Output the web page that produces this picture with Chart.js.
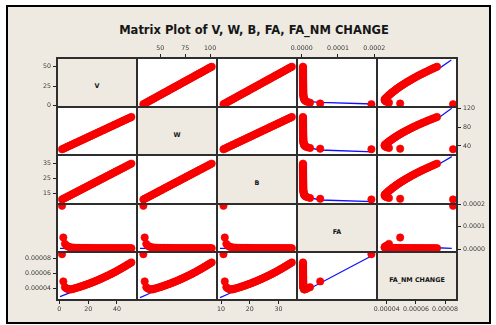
<!DOCTYPE html>
<html>
<head>
<meta charset="utf-8">
<script src="https://cdn.jsdelivr.net/npm/chart.js@4/dist/chart.umd.min.js"></script>
<style>
  html, body { margin: 0; padding: 0; background: #ffffff; }
  body { width: 496px; height: 325px; position: relative; overflow: hidden; font-family: "DejaVu Sans", sans-serif; }
  #frame { position: absolute; left: 6px; top: 5px; width: 485px; height: 319px; box-sizing: border-box;
           border: 2px solid #000; background: #EEEAE1; }
  #title { position: absolute; left: 0; width: 508px; top: 25px; text-align: center;
           font: bold 11.5px "DejaVu Sans"; line-height: 11.5px; color: #161616; white-space: nowrap; }
  .cell { position: absolute; }
  .diag { background: #EEEAE1; display: flex; align-items: center; justify-content: center;
          font: bold 6.4px "DejaVu Sans"; color: #141414; box-sizing: border-box; padding-top: 7px; white-space: nowrap; }
  .off { background: #ffffff; }
  canvas { position: absolute; }
  .gl { position: absolute; background: #2e2e2e; }
</style>
</head>
<body>
<div id="frame"></div>
<div id="title">Matrix Plot of V, W, B, FA, FA_NM CHANGE</div>
<div id="stage"></div>
<script>
// ---- variables of the matrix ----
const names = ['V', 'W', 'B', 'FA', 'FA_NM CHANGE'];

const V = [1.9, 2.8, 3.9, 5, 6, 7, 8, 9, 10, 11, 12, 13, 14, 15, 16, 17, 18, 19, 20, 21, 22, 23, 24, 25,
           26, 27, 28, 29, 30, 31, 32, 33, 34, 35, 36, 37, 38, 39, 40, 41, 42, 43, 44, 45, 46, 47, 48, 49, 50];

const W = [33.0, 34.3, 35.9, 37.4, 38.9, 40.3, 41.7, 43.1, 44.6, 46.0, 47.4, 48.8, 50.3, 51.7, 53.1, 54.5,
           55.9, 57.4, 58.8, 60.2, 61.6, 63.1, 64.5, 65.9, 67.4, 68.8, 70.2, 71.6, 73.1, 74.5, 75.9, 77.3,
           78.8, 80.2, 81.6, 83.0, 84.5, 85.9, 87.3, 88.7, 90.2, 91.6, 93.0, 94.4, 95.9, 97.3, 98.7, 100.1, 101.6];

const B = [10.85, 11.3, 11.84, 12.38, 12.87, 13.37, 13.86, 14.36, 14.85, 15.34, 15.84, 16.33, 16.83, 17.32,
           17.81, 18.31, 18.8, 19.29, 19.79, 20.28, 20.78, 21.27, 21.76, 22.26, 22.75, 23.24, 23.74, 24.23,
           24.73, 25.22, 25.71, 26.21, 26.7, 27.19, 27.69, 28.18, 28.68, 29.17, 29.66, 30.16, 30.65, 31.14,
           31.64, 32.13, 32.63, 33.12, 33.61, 34.11, 34.6];

const FA = [1.92e-4, 5.1e-5, 2.3e-5, 1.5e-5, 1.1e-5, 8.5e-6, 7.0e-6, 6.2e-6, 5.6e-6, 5.2e-6, 5.0e-6, 4.8e-6,
            4.6e-6, 4.5e-6, 4.4e-6, 4.3e-6, 4.3e-6, 4.2e-6, 4.2e-6, 4.1e-6, 4.1e-6, 4.0e-6, 4.0e-6, 4.0e-6,
            3.9e-6, 3.9e-6, 3.9e-6, 3.8e-6, 3.8e-6, 3.8e-6, 3.8e-6, 3.7e-6, 3.7e-6, 3.7e-6, 3.7e-6, 3.7e-6,
            3.6e-6, 3.6e-6, 3.6e-6, 3.6e-6, 3.6e-6, 3.6e-6, 3.5e-6, 3.5e-6, 3.5e-6, 3.5e-6, 3.5e-6, 3.5e-6, 3.5e-6];

const FA_NM = [8.55e-5, 4.92e-5, 4.15e-5, 3.98e-5, 3.90e-5, 3.86e-5, 3.85e-5, 3.90e-5, 3.95e-5, 4.01e-5,
               4.07e-5, 4.12e-5, 4.18e-5, 4.25e-5, 4.31e-5, 4.37e-5, 4.44e-5, 4.51e-5, 4.58e-5, 4.65e-5,
               4.72e-5, 4.80e-5, 4.87e-5, 4.95e-5, 5.03e-5, 5.11e-5, 5.20e-5, 5.28e-5, 5.37e-5, 5.46e-5,
               5.55e-5, 5.64e-5, 5.73e-5, 5.83e-5, 5.92e-5, 6.02e-5, 6.12e-5, 6.22e-5, 6.33e-5, 6.43e-5,
               6.54e-5, 6.65e-5, 6.76e-5, 6.87e-5, 6.98e-5, 7.10e-5, 7.21e-5, 7.33e-5, 7.45e-5];

const series = [V, W, B, FA, FA_NM];

// ---- tick labels: along columns (x) and along rows (y) ----
const colTicks = [[0, 20, 40], [50, 75, 100], [10, 20, 30], [0, 0.0001, 0.0002], [0.00004, 0.00006, 0.00008]];
const rowTicks = [[0, 25, 50], [40, 80, 120], [15, 25, 35], [0, 0.0001, 0.0002], [0.00004, 0.00006, 0.00008]];
const tickDigits = [0, 0, 0, 4, 5];

// ---- smoother lines (x, y) per panel, key = "row,col" ----
const smoothVonFA    = [[4e-6, 25], [1e-5, 10], [2.2e-5, 5.2], [5.1e-5, 4.3], [1.97e-4, 2.2]];
const smoothWonFA    = [[4e-6, 65], [1e-5, 40], [2.2e-5, 36], [5.1e-5, 31.5], [1.97e-4, 27.5]];
const smoothBonFA    = [[4e-6, 22], [1e-5, 14], [2.2e-5, 12], [5.1e-5, 10.5], [1.97e-4, 9.4]];
const smoothVonNM    = [[3.85e-5, 7], [4.5e-5, 20], [5.5e-5, 31], [6.5e-5, 40], [7.45e-5, 46], [8.43e-5, 58.6]];
const smoothWonNM    = [[3.85e-5, 40.3], [4.5e-5, 58.8], [5.5e-5, 74.5], [6.5e-5, 87.3], [7.45e-5, 97.5], [8.46e-5, 120]];
const smoothBonNM    = [[3.85e-5, 13.37], [4.5e-5, 19.79], [5.5e-5, 25.2], [6.5e-5, 29.66], [7.45e-5, 33.5], [8.46e-5, 39.2]];
const smoothFAonV    = [[0.5, 3.2e-6], [50, 2.8e-6]];
const smoothFAonW    = [[29.6, 3.2e-6], [101.6, 2.8e-6]];
const smoothFAonB    = [[9.65, 3.2e-6], [34.6, 2.8e-6]];
const smoothFAonNM   = [[3.85e-5, 1.2e-5], [5.0e-5, 7e-6], [7.45e-5, 5.5e-6], [8.46e-5, 3.0e-6]];
const smoothNMonV    = [[0.5, 2.88e-5], [6.2, 3.33e-5], [10, 3.7e-5], [20, 4.55e-5], [30, 5.35e-5], [40, 6.3e-5], [50, 7.43e-5]];
const smoothNMonW    = [[29.6, 2.75e-5], [38, 3.24e-5], [44.55, 3.7e-5], [58.8, 4.55e-5], [73.05, 5.35e-5], [87.3, 6.3e-5], [101.55, 7.43e-5]];
const smoothNMonB    = [[9.65, 2.75e-5], [12.5, 3.24e-5], [14.85, 3.7e-5], [19.79, 4.55e-5], [24.73, 5.35e-5], [29.66, 6.3e-5], [34.6, 7.43e-5]];
const smoothNMonFA   = [[4e-6, 5.6e-5], [1e-5, 4.0e-5], [3.2e-5, 4.21e-5], [1.97e-4, 8.44e-5]];

const smoothers = {
  '0,3': smoothVonFA, '1,3': smoothWonFA, '2,3': smoothBonFA,
  '0,4': smoothVonNM, '1,4': smoothWonNM, '2,4': smoothBonNM,
  '3,0': smoothFAonV, '3,1': smoothFAonW, '3,2': smoothFAonB, '3,4': smoothFAonNM,
  '4,0': smoothNMonV, '4,1': smoothNMonW, '4,2': smoothNMonB, '4,3': smoothNMonFA
};

// ---- layout of the grid ----
const colEdges = [57, 137, 217, 297, 377, 457];
const rowEdges = [58, 107, 155, 204, 252, 300];
const colRange = [[-1.6, 53.9], [26.6, 106.9], [8.6, 36.4], [-0.0000129, 0.0002074], [0.0000333, 0.0000882]];
const rowRange = [[-1.67, 61.15], [20.9, 122.76], [7.85, 40.3], [-0.0000133, 0.0002], [0.0000244, 0.0000884]];
const colAxisSide = ['bottom', 'top', 'bottom', 'top', 'bottom'];
const rowAxisSide = ['left', 'right', 'left', 'right', 'left'];

const MARGIN = 50, AXIS_X = 22, AXIS_Y = 46;
const tickFont = { family: 'DejaVu Sans', size: 6.3 };
const stage = document.getElementById('stage');

function axisOptions(kind, idx, show) {
  const range = kind === 'x' ? colRange[idx] : rowRange[idx];
  const base = { type: 'linear', min: range[0], max: range[1] };
  if (!show) return Object.assign(base, { display: false });
  const values = kind === 'x' ? colTicks[idx] : rowTicks[idx];
  return Object.assign(base, {
    display: true,
    position: kind === 'x' ? colAxisSide[idx] : rowAxisSide[idx],
    afterBuildTicks: s => { s.ticks = values.map(v => ({ value: v })); },
    afterFit: s => { if (kind === 'x') s.height = AXIS_X; else s.width = AXIS_Y; },
    ticks: {
      callback: v => Number(v).toFixed(tickDigits[idx]),
      font: tickFont, color: '#3a3a3a', padding: 2,
      autoSkip: false, maxRotation: 0, minRotation: 0
    },
    grid: { drawOnChartArea: false, drawTicks: true, tickLength: 4, color: '#222', lineWidth: 1 },
    border: { display: false }
  });
}

for (let r = 0; r < 5; r++) {
  for (let c = 0; c < 5; c++) {
    const x0 = colEdges[c], x1 = colEdges[c + 1];
    const y0 = rowEdges[r], y1 = rowEdges[r + 1];
    const w = x1 - x0, h = y1 - y0;

    const cell = document.createElement('div');
    cell.className = 'cell ' + (r === c ? 'diag' : 'off');
    cell.style.left = x0 + 'px'; cell.style.top = y0 + 'px';
    cell.style.width = w + 'px'; cell.style.height = h + 'px';
    if (r === c) cell.textContent = names[r];
    stage.appendChild(cell);

    const showX = (colAxisSide[c] === 'bottom' && r === 4) || (colAxisSide[c] === 'top' && r === 0);
    const showY = (rowAxisSide[r] === 'left' && c === 0) || (rowAxisSide[r] === 'right' && c === 4);

    const pad = { left: MARGIN, right: MARGIN, top: MARGIN, bottom: MARGIN };
    if (showX) pad[colAxisSide[c]] -= AXIS_X;
    if (showY) pad[rowAxisSide[r]] -= AXIS_Y;

    const cv = document.createElement('canvas');
    cv.width = w + 2 * MARGIN; cv.height = h + 2 * MARGIN;
    cv.style.left = (x0 - MARGIN) + 'px'; cv.style.top = (y0 - MARGIN) + 'px';
    cv.style.width = cv.width + 'px'; cv.style.height = cv.height + 'px';
    stage.appendChild(cv);

    const datasets = [];
    if (r !== c) {
      datasets.push({
        data: series[c].map((xv, i) => ({ x: xv, y: series[r][i] })),
        showLine: false, pointRadius: 3.7, pointHoverRadius: 3.7,
        backgroundColor: '#ff0000', borderColor: '#ee0000', borderWidth: 0.6
      });
      const sm = smoothers[r + ',' + c];
      if (sm) {
        datasets.push({
          data: sm.map(p => ({ x: p[0], y: p[1] })),
          showLine: true, pointRadius: 0, borderColor: '#1010ff', borderWidth: 1.3, fill: false, tension: 0
        });
      }
    }

    new Chart(cv, {
      type: 'scatter',
      data: { datasets },
      options: {
        responsive: false, animation: false, devicePixelRatio: 1,
        layout: { padding: pad },
        plugins: { legend: { display: false }, tooltip: { enabled: false } },
        events: [],
        scales: { x: axisOptions('x', c, showX), y: axisOptions('y', r, showY) }
      }
    });
  }
}

// panel outlines
for (const x of colEdges) {
  const d = document.createElement('div');
  d.className = 'gl';
  d.style.left = (x - 1) + 'px'; d.style.top = (rowEdges[0] - 1) + 'px';
  d.style.width = '2px'; d.style.height = (rowEdges[5] - rowEdges[0] + 2) + 'px';
  stage.appendChild(d);
}
for (const y of rowEdges) {
  const d = document.createElement('div');
  d.className = 'gl';
  d.style.left = (colEdges[0] - 1) + 'px'; d.style.top = (y - 1) + 'px';
  d.style.width = (colEdges[5] - colEdges[0] + 2) + 'px'; d.style.height = '2px';
  stage.appendChild(d);
}
</script>
</body>
</html>
